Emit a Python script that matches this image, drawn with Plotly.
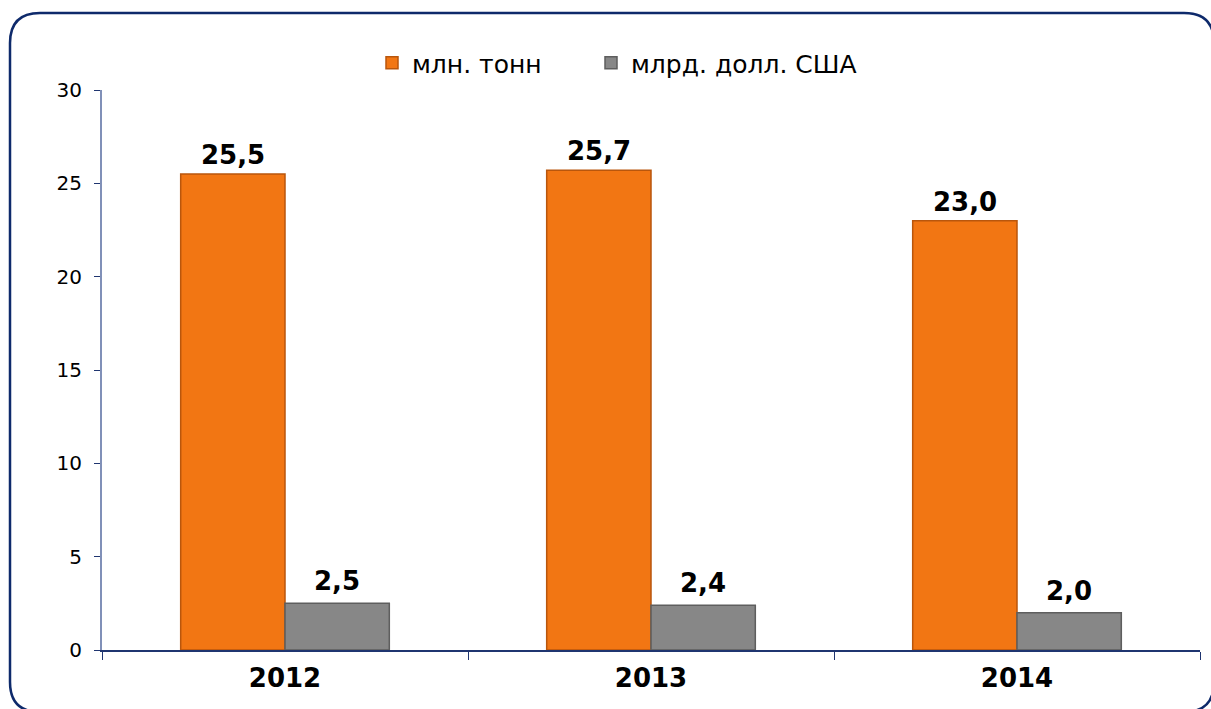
import plotly.graph_objects as go

years = ["2012", "2013", "2014"]
tonnes = [25.5, 25.7, 23.0]
usd_bn = [2.5, 2.4, 2.0]
series_names = ["млн. тонн", "млрд. долл. США"]
y_ticks = [0, 5, 10, 15, 20, 25, 30]

W, H = 1211, 709
ML, MR, MT, MB = 102, 11, 90, 59
PW, PH = W - ML - MR, H - MT - MB
BARGAP = 0.43

def px_x(p):
    return (p - ML) / PW

def px_y(p):
    return (H - MB - p) / PH

label_font = dict(family="DejaVu Sans", size=26, color="black", weight="bold")
legend_font = dict(size=25, family="DejaVu Sans", color="black")

fig = go.Figure()
fig.add_trace(go.Bar(
    x=years, y=tonnes, name=series_names[0], legend="legend",
    marker=dict(color="#F27613", line=dict(color="#B9560C", width=1.5)),
))
fig.add_trace(go.Bar(
    x=years, y=usd_bn, name=series_names[1], legend="legend2",
    marker=dict(color="#878787", line=dict(color="#5E5E5E", width=1.5)),
))

# value labels above bars (offset by half a bar width within each group)
cat_px = PW / len(years)
half_bar = cat_px * (1 - BARGAP) / 4
for vals, sign, shift in ((tonnes, -1, 2), (usd_bn, 1, 5)):
    for i, v in enumerate(vals):
        fig.add_annotation(x=i, y=v, xref="x", yref="y", text=f"{v:.1f}".replace(".", ","),
                           showarrow=False, yanchor="bottom", xanchor="center",
                           xshift=sign * half_bar, yshift=shift, font=label_font)

# rounded frame
L, R, T, B, r = 10, 1214, 13, 712, 30
xl, xr, yt, yb = px_x(L), px_x(R), px_y(T), px_y(B)
rx, ry = r / PW, r / PH
path = (f"M {xl},{yt-ry} L {xl},{yb+ry} Q {xl},{yb} {xl+rx},{yb} "
        f"L {xr-rx},{yb} Q {xr},{yb} {xr},{yb+ry} L {xr},{yt-ry} "
        f"Q {xr},{yt} {xr-rx},{yt} L {xl+rx},{yt} Q {xl},{yt} {xl},{yt-ry} Z")
fig.add_shape(type="path", path=path, xref="paper", yref="paper",
              line=dict(color="#0E2A6B", width=2.5), layer="below")

fig.update_layout(
    width=W, height=H,
    margin=dict(l=ML, r=MR, t=MT, b=MB, autoexpand=False),
    paper_bgcolor="white", plot_bgcolor="white",
    separators=", ",
    barmode="group", bargap=BARGAP, bargroupgap=0,
    font=dict(family="DejaVu Sans", color="black"),
    showlegend=True,
    legend=dict(orientation="h", x=px_x(372), xanchor="left", y=px_y(63), yanchor="middle",
                font=legend_font, itemwidth=30),
    legend2=dict(orientation="h", x=px_x(591), xanchor="left", y=px_y(63), yanchor="middle",
                 font=legend_font, itemwidth=30),
    xaxis=dict(type="category", range=[-0.5, 2.5], showline=True, linecolor="#1F3570",
               linewidth=1.5, ticks="outside", ticklen=8, tickcolor="#1F3570",
               tickson="boundaries",
               tickfont=dict(size=26, family="DejaVu Sans", color="black", weight="bold"),
               showgrid=False, zeroline=False, ticklabelstandoff=4),
    yaxis=dict(range=[0, 30], tickvals=y_ticks, showline=True, linecolor="#8090B8",
               linewidth=2, ticks="outside", ticklen=6, tickcolor="#1F3570",
               tickfont=dict(size=20, family="DejaVu Sans", color="black"),
               showgrid=False, zeroline=False, ticklabelstandoff=8),
    xaxis2=dict(overlaying="x", range=[-0.5, 2.5], tickvals=[-0.5, 0.5, 1.5, 2.5],
                ticks="inside", ticklen=8, tickcolor="#1F3570", showticklabels=False,
                showgrid=False, zeroline=False, showline=False, anchor="y", side="bottom"),
    yaxis2=dict(overlaying="y", range=[0, 30], tickvals=y_ticks, ticks="inside",
                ticklen=6, tickcolor="#1F3570", showticklabels=False, showgrid=False,
                zeroline=False, showline=False, anchor="x", side="left"),
)

fig.write_html("out.html", config={"displayModeBar": False},
               post_script="document.body.style.margin='0';document.body.style.overflow='hidden';")
